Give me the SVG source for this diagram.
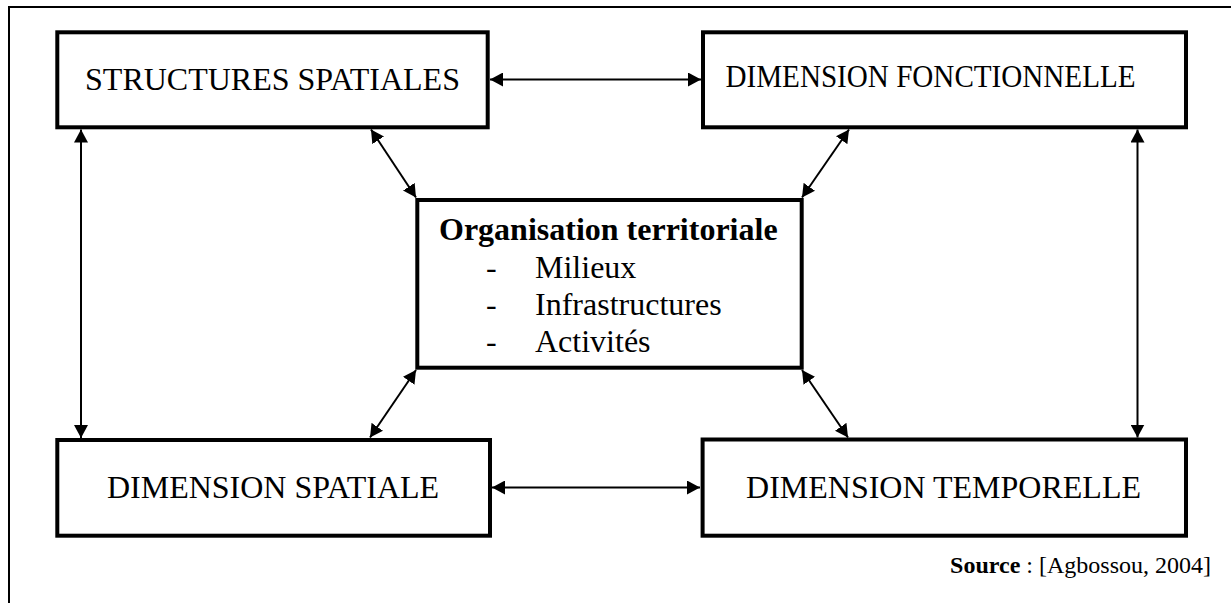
<svg xmlns="http://www.w3.org/2000/svg" width="1231" height="603" viewBox="0 0 1231 603">
  <style>
    .frame { fill: none; stroke: #000; stroke-width: 2; }
    .box { fill: #fff; stroke: #000; stroke-width: 4; }
    .label { font-family: "Liberation Serif", "Times New Roman", serif; font-size: 32px; fill: #000; }
    .title { font-weight: bold; }
    .link { stroke: #000; stroke-width: 2; fill: none; marker-start: url(#head); marker-end: url(#head); }
    .src { font-family: "Liberation Serif", "Times New Roman", serif; font-size: 24px; fill: #000; }
  </style>
  <defs>
    <marker id="head" markerUnits="userSpaceOnUse" markerWidth="14" markerHeight="14" refX="13" refY="7" orient="auto-start-reverse">
      <path d="M0,0 L13,7 L0,14 z" fill="#000"/>
    </marker>
  </defs>

  <rect width="1231" height="603" fill="#fff"/>
  <!-- page frame, open on the right and bottom -->
  <path class="frame" d="M9,610 L9,7 L1240,7"/>

  <!-- connectors -->
  <g id="connectors">
    <line class="link" x1="490" y1="79.5" x2="701" y2="79.5"/>
    <line class="link" x1="492" y1="487.5" x2="700" y2="487.5"/>
    <line class="link" x1="81" y1="129.5" x2="81" y2="438"/>
    <line class="link" x1="1137.5" y1="129.5" x2="1137.5" y2="437.5"/>
    <line class="link" x1="371" y1="129.5" x2="416" y2="197.5"/>
    <line class="link" x1="849" y1="129.5" x2="802" y2="197.5"/>
    <line class="link" x1="416" y1="370" x2="370" y2="437.5"/>
    <line class="link" x1="802" y1="370" x2="848" y2="437.5"/>
  </g>

  <g id="structures-spatiales">
    <rect class="box" x="57.3" y="32.3" width="430.4" height="95"/>
    <text class="label" x="272.5" y="90" text-anchor="middle">STRUCTURES SPATIALES</text>
  </g>

  <g id="dimension-fonctionnelle">
    <rect class="box" x="703" y="32.3" width="483" height="95"/>
    <text class="label" x="725.5" y="87.3" style="font-size:31px" textLength="410" lengthAdjust="spacingAndGlyphs">DIMENSION FONCTIONNELLE</text>
  </g>

  <g id="organisation-territoriale">
    <rect class="box" x="417.3" y="200" width="384.4" height="167.7"/>
    <text class="label title" x="608.3" y="240" text-anchor="middle">Organisation territoriale</text>
    <text class="label" x="486" y="277.7">-</text>
    <text class="label" x="535" y="277.7">Milieux</text>
    <text class="label" x="486" y="315">-</text>
    <text class="label" x="535" y="315">Infrastructures</text>
    <text class="label" x="486" y="351.7">-</text>
    <text class="label" x="535" y="351.7">Activités</text>
  </g>

  <g id="dimension-spatiale">
    <rect class="box" x="57.3" y="440" width="432.7" height="95.7"/>
    <text class="label" x="273" y="497.7" text-anchor="middle">DIMENSION SPATIALE</text>
  </g>

  <g id="dimension-temporelle">
    <rect class="box" x="702.6" y="439.5" width="483.4" height="96.2"/>
    <text class="label" x="943.5" y="497.7" text-anchor="middle">DIMENSION TEMPORELLE</text>
  </g>

  <text class="src" x="1211" y="573.3" text-anchor="end"><tspan font-weight="bold">Source</tspan> : [Agbossou, 2004]</text>
</svg>
